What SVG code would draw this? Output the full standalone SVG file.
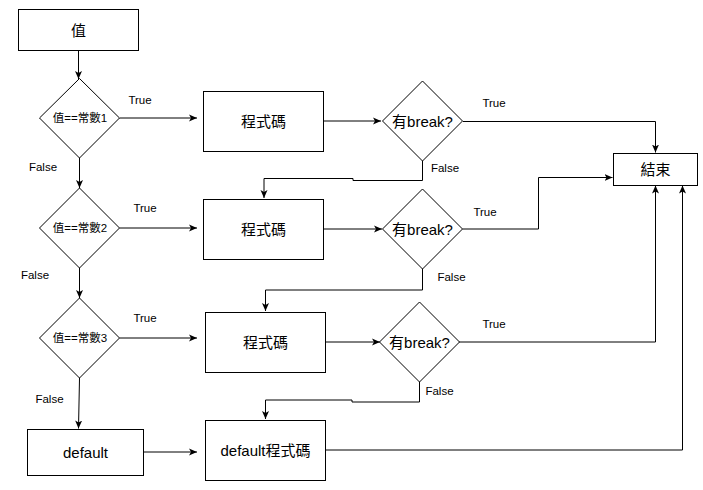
<svg xmlns="http://www.w3.org/2000/svg" width="703" height="490" viewBox="0 0 703 490">
<style>
.n{fill:#fff;stroke:#000;stroke-width:1}
.t{font-family:"Liberation Sans","Noto Sans CJK TC",sans-serif;font-size:15px;fill:#000;text-anchor:middle;dominant-baseline:central}
.s{font-family:"Liberation Sans","Noto Sans CJK TC",sans-serif;font-size:11.5px;fill:#000;text-anchor:middle;dominant-baseline:central}
.c{fill:none;stroke:#000;stroke-width:1;marker-end:url(#a)}
</style>
<defs>
<marker id="a" markerUnits="userSpaceOnUse" markerWidth="9" markerHeight="8" refX="8" refY="4" orient="auto">
<path d="M0,0.5 L8,4 L0,7.5 L2,4 z" fill="#000"/>
</marker>
</defs>
<rect width="703" height="490" fill="#fff"/>
<g id="connectors">
<path class="c" d="M78.5 50 V79"/>
<path class="c" d="M119.5 118 H197"/>
<path class="c" d="M324 121 H381"/>
<path class="c" d="M463 121.5 H655.5 V152.5"/>
<path class="c" d="M422.5 161 V180.5 H353 V178.5 H264 V198"/>
<path class="c" d="M79.5 158 V188"/>
<path class="c" d="M119.5 228 H197"/>
<path class="c" d="M323 229 H382"/>
<path class="c" d="M462.5 229 H538.5 V177.5 H612.5"/>
<path class="c" d="M422.5 269 V290 H265.5 V311"/>
<path class="c" d="M79.5 268 V298"/>
<path class="c" d="M119.5 338 H197"/>
<path class="c" d="M325 342 H380"/>
<path class="c" d="M459 342 H655.5 V185.5"/>
<path class="c" d="M419.5 382 V402 H352 V400 H265.5 V419"/>
<path class="c" d="M79.5 378 L78.5 428.5"/>
<path class="c" d="M143 452 H197"/>
<path class="c" d="M325.5 450 H682.5 V185.5"/>
<text class="s" x="140" y="100">True</text>
<text class="s" x="43" y="167">False</text>
<text class="s" x="145" y="208">True</text>
<text class="s" x="35" y="275">False</text>
<text class="s" x="145" y="318">True</text>
<text class="s" x="49.5" y="399">False</text>
<text class="s" x="494" y="103">True</text>
<text class="s" x="445" y="168">False</text>
<text class="s" x="485" y="212">True</text>
<text class="s" x="451.5" y="277">False</text>
<text class="s" x="494" y="324">True</text>
<text class="s" x="439.5" y="391">False</text>
</g>
<g id="start"><rect class="n" x="18.5" y="9.5" width="120" height="41"/><text class="t" x="78.5" y="30">值</text></g>
<g id="cond1"><path class="n" d="M79.5 78.5 L119.5 118 L79.5 158 L39.5 118 z"/><text class="s" x="80" y="118">值==常數1</text></g>
<g id="cond2"><path class="n" d="M79.5 188 L119.5 228 L79.5 268 L39.5 228 z"/><text class="s" x="80" y="228">值==常數2</text></g>
<g id="cond3"><path class="n" d="M79.5 298 L119.5 338 L79.5 378 L39.5 338 z"/><text class="s" x="80" y="338">值==常數3</text></g>
<g id="code1"><rect class="n" x="203.5" y="91.5" width="120" height="60"/><text class="t" x="263.5" y="121">程式碼</text></g>
<g id="code2"><rect class="n" x="203.5" y="199.5" width="120" height="60"/><text class="t" x="263.5" y="229">程式碼</text></g>
<g id="code3"><rect class="n" x="205.5" y="312.5" width="120" height="60"/><text class="t" x="265.5" y="342">程式碼</text></g>
<g id="brk1"><path class="n" d="M422.5 81 L462.5 121 L422.5 161 L382.5 121 z"/><text class="t" x="422.5" y="121">有break?</text></g>
<g id="brk2"><path class="n" d="M422.5 189 L462.5 229 L422.5 269 L382.5 229 z"/><text class="t" x="422.5" y="229">有break?</text></g>
<g id="brk3"><path class="n" d="M419.5 302 L459.5 342 L419.5 382 L379.5 342 z"/><text class="t" x="419.5" y="342">有break?</text></g>
<g id="end"><rect class="n" x="613.5" y="153.5" width="84" height="32"/><text class="t" x="655.5" y="169.5">結束</text></g>
<g id="default"><rect class="n" x="27.5" y="429.5" width="116" height="46"/><text class="t" x="85.5" y="452.5">default</text></g>
<g id="defcode"><rect class="n" x="205.5" y="420.5" width="120" height="60"/><text class="t" x="265.5" y="450.5">default程式碼</text></g>
</svg>
